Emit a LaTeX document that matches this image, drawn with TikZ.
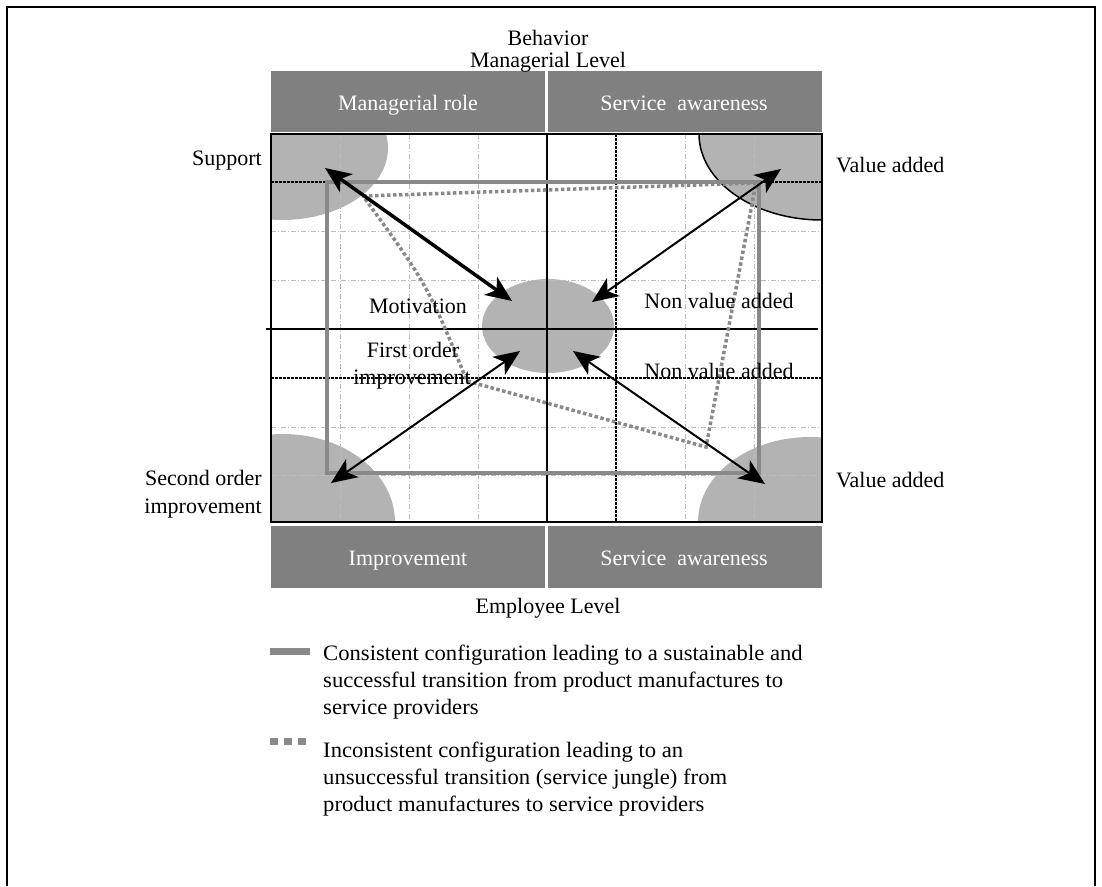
\documentclass[tikz,border=0pt]{standalone}
\usepackage{fontspec}
\setmainfont{Liberation Serif}
\usetikzlibrary{arrows.meta}
\definecolor{hdrgray}{HTML}{808080}
\definecolor{blobgray}{HTML}{B3B3B3}
\definecolor{cfggray}{HTML}{898989}
\definecolor{gridgray}{HTML}{BDBDBD}
\begin{document}
\begin{tikzpicture}[x=1pt,y=-1pt,
  lbl/.style={font=\fontsize{22}{27}\selectfont, inner sep=0pt, anchor=base},
  lble/.style={lbl, anchor=base east},
  lblw/.style={lbl, anchor=base west},
  legtxt/.style={lblw, xscale=1.03},
  hdrtxt/.style={lbl, text=white},
  hdrbox/.style={fill=hdrgray},
  gridln/.style={gridgray, line width=0.9pt, dash pattern=on 5pt off 2pt on 1pt off 2pt},
  blkdot/.style={black, line width=1.5pt, dash pattern=on 2.5pt off 1.5pt},
  blkln/.style={black, line width=2pt},
  cons/.style={cfggray, line width=3.5pt},
  incons/.style={cfggray, line width=3.5pt, dash pattern=on 3.5pt off 2.5pt},
  tip/.tip={Stealth[length=26pt,width=22pt,inset=7pt]},
  dbl/.style={black, line width=2pt, tip-tip},
  dblthick/.style={dbl, line width=3.5pt}
]
\useasboundingbox (0,0) rectangle (1102,886);
% outer frame (open at bottom)
\draw[black, line width=1.8pt] (7,886) -- (7,7) -- (1095,7) -- (1095,886);

% header boxes
\fill[hdrbox] (271,71) rectangle (545,132);
\fill[hdrbox] (548,71) rectangle (822,132);
\fill[hdrbox] (271,526) rectangle (545,588);
\fill[hdrbox] (548,526) rectangle (822,588);

% blobs
\begin{scope}
  \clip (271,134) rectangle (822,522);
  \fill[blobgray] (282,148) ellipse [x radius=106, y radius=72];
  \fill[blobgray] (283,522) ellipse [x radius=112, y radius=88];
  \fill[blobgray] (810,522) ellipse [x radius=112, y radius=85];
  \filldraw[fill=blobgray, draw=black, line width=1.5pt] (822,134) ellipse [x radius=123, y radius=86];
\end{scope}
\fill[blobgray] (548,326) ellipse [x radius=66, y radius=47];

% light grid
\foreach \gx in {340,409,478,685,754} \draw[gridln] (\gx,134) -- (\gx,522);
\foreach \gy in {231,280,427,475} \draw[gridln] (271,\gy) -- (822,\gy);

% black dotted lines
\draw[blkdot] (271,182) -- (822,182);
\draw[blkdot] (271,378) -- (822,378);
\draw[blkdot] (616,134) -- (616,522);

% main axes and box
\draw[blkln] (547,134) -- (547,522);
\draw[blkln] (266,329) -- (818,329);
\draw[blkln] (271,134) rectangle (822,522);

% consistent configuration
\draw[cons] (327,182) rectangle (759,473);
% inconsistent configuration
\draw[incons] (363,196) -- (756,183) -- (706,447) -- (467,381) .. controls (427,284) .. cycle;

% arrows
\coordinate (tlO) at (325,168);
\coordinate (tlI) at (512,301);
\coordinate (trO) at (781,169);
\coordinate (trI) at (592,302);
\coordinate (blO) at (331,483);
\coordinate (blI) at (520,351);
\coordinate (brO) at (765,484);
\coordinate (brI) at (573,351);
\draw[dblthick] (tlO) -- (tlI);
\draw[dbl] (trI) -- (trO);
\draw[dbl] (blO) -- (blI);
\draw[dbl] (brI) -- (brO);

% texts
\node[lbl] (behavior) at (548,45) {Behavior};
\node[lbl] (mlevel) at (548,67) {Managerial Level};
\node[hdrtxt] (mrole) at (408,110) {Managerial role};
\node[hdrtxt] (saw1) at (684,110) {Service\ \ awareness};
\node[hdrtxt] (impr) at (408,565) {Improvement};
\node[hdrtxt] (saw2) at (684,565) {Service\ \ awareness};
\node[lbl] (elevel) at (548,613) {Employee Level};
\node[lble] (support) at (262,165) {Support};
\node[lblw] (va1) at (836,172) {Value added};
\node[lble] (so1) at (262,485) {Second order};
\node[lble] (so2) at (262,513) {improvement};
\node[lblw] (va2) at (836,487) {Value added};
\node[lbl] (motiv) at (418,313) {Motivation};
\node[lbl] (fo1) at (413,357) {First order};
\node[lbl] (fo2) at (412,384) {improvement};
\node[lbl] (nva1) at (719,308) {Non value added};
\node[lbl] (nva2) at (719,378) {Non value added};

% legend
\draw[cfggray, line width=7pt] (270,651) -- (310,651);
\draw[cfggray, line width=7pt, dash pattern=on 8pt off 6pt] (270,741) -- (306,741);
\node[legtxt] (l1a) at (323,660) {Consistent configuration leading to a sustainable and};
\node[legtxt] (l1b) at (323,687) {successful transition from product manufactures to};
\node[legtxt] (l1c) at (323,714) {service providers};
\node[legtxt] (l2a) at (323,757) {Inconsistent configuration leading to an};
\node[legtxt] (l2b) at (323,784) {unsuccessful transition (service jungle) from};
\node[legtxt] (l2c) at (323,811) {product manufactures to service providers};
\end{tikzpicture}
\end{document}
